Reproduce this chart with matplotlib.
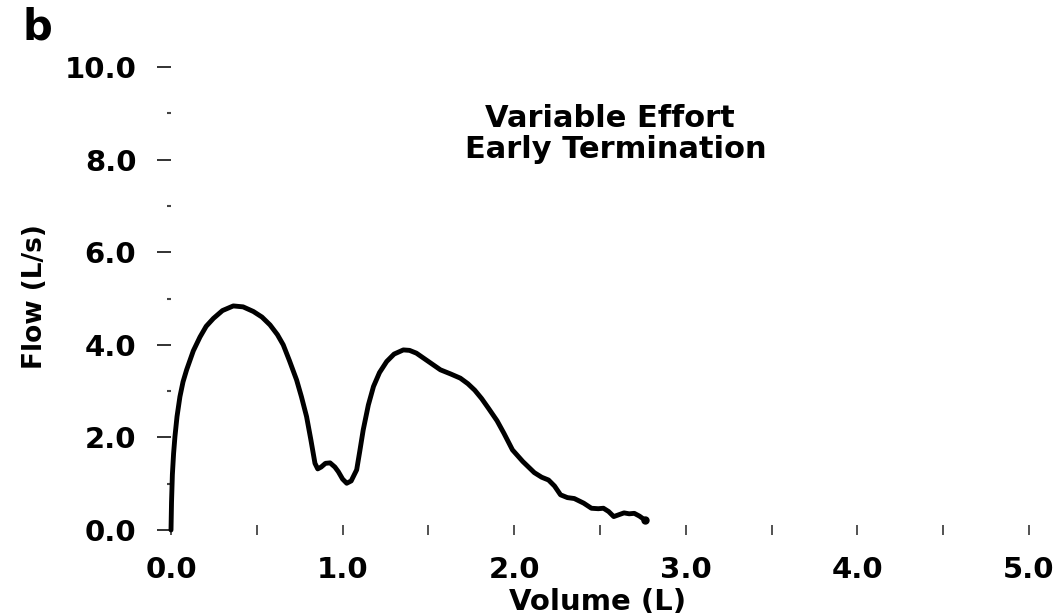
import matplotlib.pyplot as plt

# flow-volume curve (volume in L, flow in L/s)
volume = [0.0, 0.003, 0.008, 0.015, 0.023, 0.035, 0.052, 0.07, 0.091, 0.13,
          0.169, 0.205, 0.247, 0.30, 0.363, 0.42, 0.48, 0.53, 0.577, 0.62,
          0.654, 0.69, 0.732, 0.76, 0.79, 0.815, 0.839, 0.855, 0.875, 0.90,
          0.927, 0.955, 0.975, 1.0, 1.024, 1.05, 1.082, 1.10, 1.12, 1.15,
          1.18, 1.215, 1.257, 1.30, 1.354, 1.39, 1.43, 1.50, 1.57, 1.63,
          1.686, 1.73, 1.77, 1.81, 1.85, 1.90, 1.94, 1.99, 2.05, 2.117,
          2.16, 2.20, 2.235, 2.27, 2.31, 2.35, 2.405, 2.45, 2.49, 2.52,
          2.55, 2.58, 2.61, 2.64, 2.67, 2.70, 2.73, 2.76]
flow = [0.0, 0.6, 1.2, 1.65, 2.02, 2.45, 2.88, 3.2, 3.46, 3.87,
        4.17, 4.40, 4.57, 4.74, 4.84, 4.82, 4.72, 4.60, 4.43, 4.22,
        4.0, 3.66, 3.24, 2.88, 2.45, 1.95, 1.44, 1.32, 1.36, 1.44,
        1.45, 1.36, 1.26, 1.10, 1.01, 1.06, 1.30, 1.70, 2.16, 2.70,
        3.10, 3.40, 3.64, 3.80, 3.89, 3.88, 3.82, 3.64, 3.46, 3.37,
        3.28, 3.16, 3.02, 2.84, 2.63, 2.36, 2.09, 1.73, 1.48, 1.24,
        1.14, 1.08, 0.95, 0.76, 0.70, 0.68, 0.58, 0.47, 0.46, 0.47,
        0.40, 0.29, 0.33, 0.37, 0.35, 0.36, 0.30, 0.22]

x_major = [0.0, 1.0, 2.0, 3.0, 4.0, 5.0]
x_minor = [0.5, 1.5, 2.5, 3.5, 4.5]
y_major = [0.0, 2.0, 4.0, 6.0, 8.0, 10.0]
y_minor = [1.0, 3.0, 5.0, 7.0, 9.0]

plt.rcParams['font.family'] = ['DejaVu Sans']
plt.rcParams['font.weight'] = 'bold'

fig = plt.figure(figsize=(10.53, 6.15), dpi=100)
ax = fig.add_axes([0.1624, 0.1382, 0.8148, 0.7528])

ax.plot(volume, flow, color='black', lw=3.5, solid_capstyle='round',
        solid_joinstyle='round', clip_on=False)
ax.plot(volume[-1:], flow[-1:], marker='o', color='black', ms=5, clip_on=False)

ax.set_xlim(0, 5)
ax.set_ylim(0, 10)
for s in ax.spines.values():
    s.set_visible(False)

ax.set_xticks(x_major)
ax.set_xticks(x_minor, minor=True)
ax.set_xticklabels([f"{v:.1f}" for v in x_major])
ax.set_yticks(y_major)
ax.set_yticks(y_minor, minor=True)
ax.set_yticklabels([f"{v:.1f}" for v in y_major])

ax.tick_params(axis='x', which='both', direction='inout', length=7,
               width=1.3, color='#444444', pad=15, labelsize=21)
ax.tick_params(axis='y', which='major', direction='out', length=10,
               width=1.3, color='#222222', pad=15, labelsize=21)
ax.tick_params(axis='y', which='minor', direction='out', length=3,
               width=1.5, color='#444444')

fig.text(23 / 1053, 1 - 40 / 615, 'b', fontsize=30, fontweight='bold',
         ha='left', va='baseline')
fig.text(610 / 1053, 1 - 127 / 615, 'Variable Effort', fontsize=22,
         fontweight='bold', ha='center', va='baseline')
fig.text(616 / 1053, 1 - 158 / 615, 'Early Termination', fontsize=22,
         fontweight='bold', ha='center', va='baseline')
fig.text(35 / 1053, 1 - 297 / 615, 'Flow (L/s)', fontsize=19,
         fontweight='bold', rotation=90, ha='center', va='center')
fig.text(598 / 1053, 1 - 610 / 615, 'Volume (L)', fontsize=21,
         fontweight='bold', ha='center', va='baseline')

fig.savefig('out.png', dpi=100)
